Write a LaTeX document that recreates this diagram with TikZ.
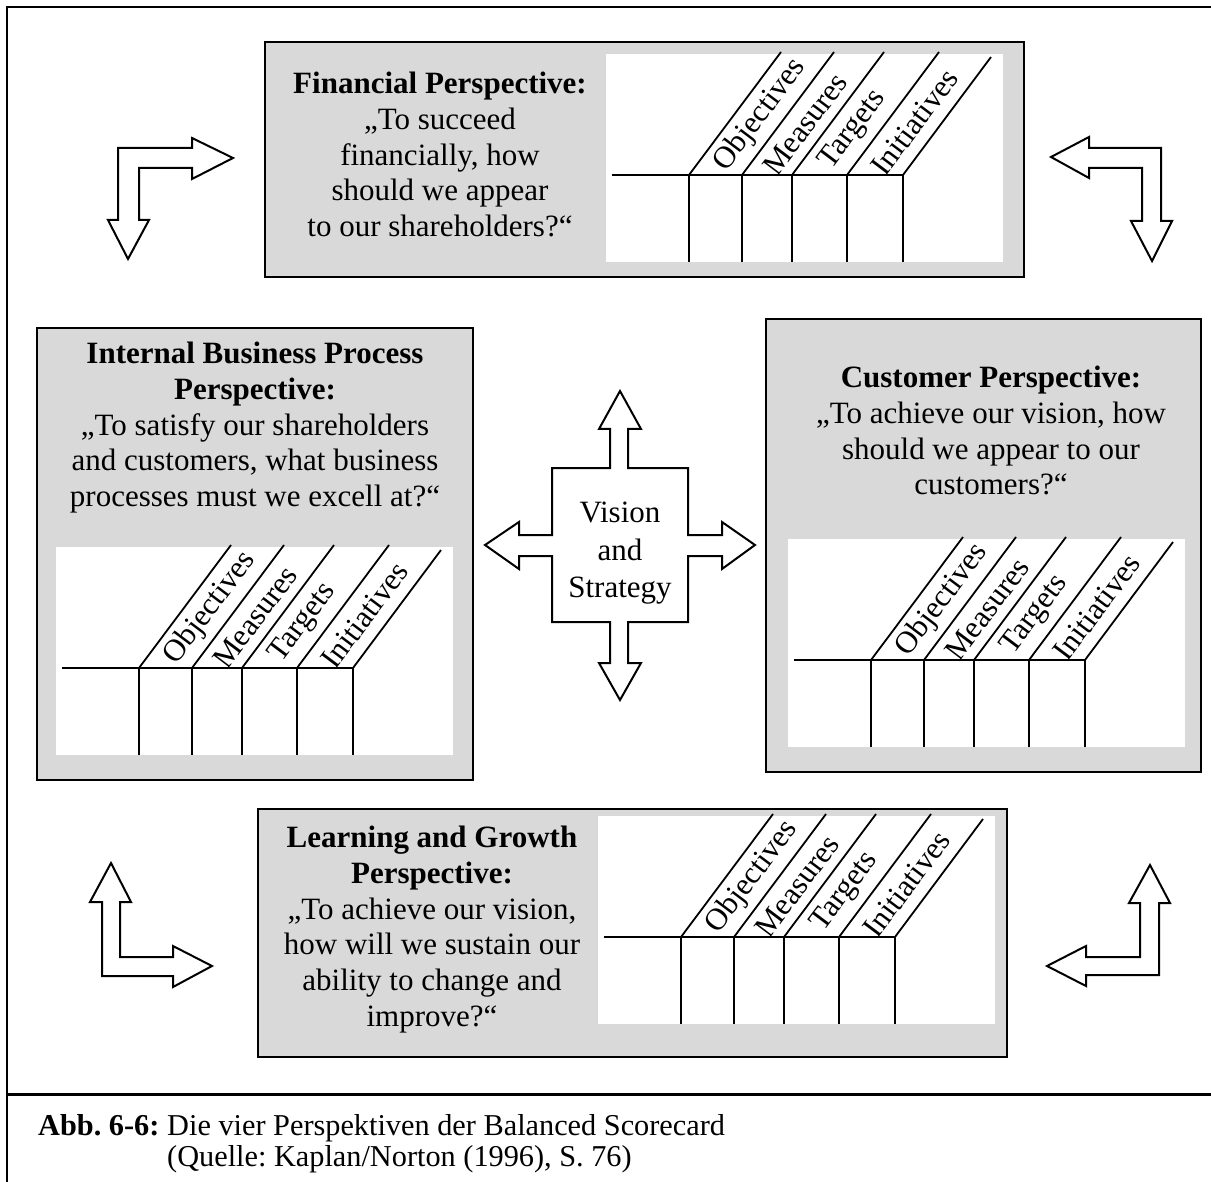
\documentclass[tikz,border=0pt]{standalone}
\usepackage{fontspec}
\setmainfont{Liberation Serif}
\frenchspacing
\definecolor{panelgray}{RGB}{217,217,217}
\tikzset{
  frameline/.style={line width=2pt},
  panel/.style={fill=panelgray, draw=black, line width=2.5pt},
  tl/.style={line width=1.8pt},
  hollow/.style={draw=black, fill=white, line width=2pt, line join=miter},
  txt/.style={font={\fontsize{31}{35.7}\selectfont}, align=center, inner sep=0pt, anchor=north},
  lab/.style={font={\fontsize{31}{36}\selectfont}, inner sep=0pt, rotate=53},
  captxt/.style={font={\fontsize{30.3}{31}\selectfont}, inner sep=0pt, anchor=base west},
  % the slanted scorecard table: origin at the foot of the first column line;
  % each label is centred in its slanted strip
  pics/scorecard/.style={code={
    \fill[white] (-83,-121) rectangle (314,87);
    \draw[tl] (-77,0) -- (214,0);
    \foreach \x in {0,53,103,158,214} \draw[tl] (\x,0) -- (\x,87);
    \foreach \x in {0,53,103,158} \draw[tl] (\x,0) -- ++(92,-123);
    \draw[tl] (214,0) -- ++(88,-118);
    \node[lab] (-obj) at ({26.5+60*0.748},-60) {Objectives};
    \node[lab] (-mea) at ({78+51*0.748},-51) {Measures};
    \node[lab] (-tar) at ({130.5+45*0.748},-45) {Targets};
    \node[lab] (-ini) at ({186+53*0.748},-53) {Initiatives};
  }}
}
\begin{document}
\begin{tikzpicture}[x=1pt,y=-1pt]
\useasboundingbox (0,0) rectangle (1211,1182);

% outer frame and caption separator
\draw[frameline] (1211,7) -- (7,7) -- (7,1182);
\draw[line width=3pt] (7,1094) -- (1211,1094);

% Financial perspective
\draw[panel] (265,42) rectangle (1024,277);
\pic (fintab) at (689,175) {scorecard};
\node[txt] (fin) at (440,72) {\textbf{Financial Perspective:}\\„To succeed\\financially, how\\should we appear\\to our shareholders?“};

% Internal business process perspective
\draw[panel] (37,328) rectangle (473,780);
\pic (inttab) at (139,668) {scorecard};
\node[txt] (int) at (255,342) {\textbf{Internal Business Process}\\\textbf{Perspective:}\\„To satisfy our shareholders\\and customers, what business\\processes must we excell at?“};

% Customer perspective
\draw[panel] (766,319) rectangle (1201,772);
\pic (custab) at (871,660) {scorecard};
\node[txt] (cus) at (991,366) {\textbf{Customer Perspective:}\\„To achieve our vision, how\\should we appear to our\\customers?“};

% Learning and growth perspective
\draw[panel] (258,809) rectangle (1007,1057);
\pic (lrntab) at (681,937) {scorecard};
\node[txt] (lrn) at (432,826) {\textbf{Learning and Growth}\\\textbf{Perspective:}\\„To achieve our vision,\\how will we sustain our\\ability to change and\\improve?“};

% central cross
\draw[hollow] (620,391) -- (641,429) -- (628,429) -- (628,468) -- (688,468) -- (688,535)
  -- (722,535) -- (722,522) -- (755,545) -- (722,569) -- (722,556) -- (688,556)
  -- (688,622) -- (628,622) -- (628,663) -- (641,663) -- (620,700) -- (599,663)
  -- (610,663) -- (610,622) -- (552,622) -- (552,556) -- (519,556) -- (519,569)
  -- (485,545) -- (519,522) -- (519,535) -- (552,535) -- (552,468) -- (610,468)
  -- (610,429) -- (599,429) -- cycle;
\node[txt, font={\fontsize{31}{37.5}\selectfont}] (vis) at (620,502) {Vision\\and\\Strategy};

% corner arrows
\draw[hollow] (233,158) -- (192,138) -- (192,148) -- (118,148) -- (118,220) -- (108,220)
  -- (128,259) -- (149,220) -- (139,220) -- (139,168) -- (192,168) -- (192,179) -- cycle;
\draw[hollow] (1051,157) -- (1089,137) -- (1089,148) -- (1161,148) -- (1161,221) -- (1172,221)
  -- (1152,261) -- (1131,221) -- (1142,221) -- (1142,168) -- (1089,168) -- (1089,178) -- cycle;
\draw[hollow] (111,863) -- (131,902) -- (120,902) -- (120,957) -- (173,957) -- (173,946)
  -- (212,966) -- (173,987) -- (173,976) -- (102,976) -- (102,902) -- (90,902) -- cycle;
\draw[hollow] (1150,865) -- (1170,903) -- (1159,903) -- (1159,975) -- (1086,975) -- (1086,986)
  -- (1047,966) -- (1086,946) -- (1086,957) -- (1140,957) -- (1140,903) -- (1129,903) -- cycle;

% caption
\node[captxt] (abb) at (38,1135) {\textbf{Abb.\ 6-6:}};
\node[captxt] (cap) at (167,1135) {Die vier Perspektiven der Balanced Scorecard};
\node[captxt] (src) at (167,1166) {(Quelle: Kaplan/Norton (1996), S. 76)};
\end{tikzpicture}
\end{document}
